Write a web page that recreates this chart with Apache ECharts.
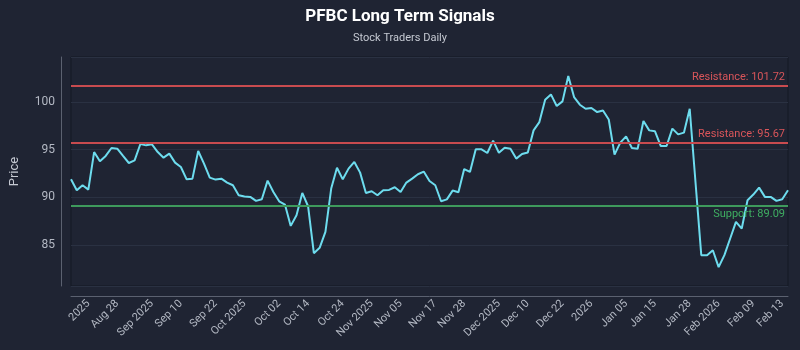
<!DOCTYPE html>
<html>
<head>
<meta charset="utf-8">
<script src="https://cdn.jsdelivr.net/npm/echarts@6/dist/echarts.min.js"></script>
<style>
html,body{margin:0;padding:0;background:#1f2433;}
#chart{width:800px;height:350px;}
</style>
</head>
<body>
<div id="chart"></div>
<script>
const prices = [
  91.88, 90.73, 91.26, 90.80, 94.74, 93.77, 94.33, 95.16, 95.09, 94.33,
  93.59, 93.87, 95.58, 95.44, 95.55, 94.74, 94.15, 94.57, 93.63, 93.17,
  91.88, 91.95, 94.85, 93.52, 92.06, 91.85, 91.95, 91.54, 91.26, 90.21,
  90.07, 90.04, 89.62, 89.79, 91.74, 90.56, 89.58, 89.23, 87.00, 88.12,
  90.45, 89.06, 84.14, 84.70, 86.37, 90.91, 93.10, 91.88, 93.00, 93.70,
  92.58, 90.45, 90.63, 90.21, 90.73, 90.77, 91.05, 90.56, 91.54, 91.95,
  92.41, 92.69, 91.70, 91.26, 89.58, 89.78, 90.70, 90.53, 92.96, 92.65,
  95.02, 95.02, 94.64, 95.93, 94.67, 95.20, 95.09, 94.05, 94.53, 94.70,
  97.01, 97.88, 100.22, 100.78, 99.56, 100.05, 102.70, 100.50, 99.70, 99.28,
  99.35, 98.93, 99.10, 98.15, 94.47, 95.72, 96.38, 95.16, 95.09, 97.99,
  97.01, 96.91, 95.37, 95.37, 97.19, 96.59, 96.77, 99.28, 91.60, 83.93,
  83.93, 84.45, 82.68, 83.93, 85.68, 87.42, 86.72, 89.69, 90.28, 91.01,
  90.04, 90.04, 89.62, 89.79, 90.73
];
const tickLabels = ["2025","Aug 28","Sep 2025","Sep 10","Sep 22","Oct 2025","Oct 02","Oct 14","Oct 24","Nov 2025","Nov 05","Nov 17","Nov 28","Dec 2025","Dec 10","Dec 22","2026","Jan 05","Jan 15","Jan 28","Feb 2026","Feb 09","Feb 13"];
const tickIndex = [3,8,14,19,25,30,36,41,47,52,57,63,68,74,79,85,90,96,101,107,112,118,123];
const resistanceLevels = [101.72, 95.67];
const supportLevels = [89.09];

const categories = prices.map((_, i) => String(i));
const labelAt = {};
tickIndex.forEach((idx, k) => { labelAt[idx] = tickLabels[k]; });

const chart = echarts.init(document.getElementById('chart'), null, {renderer: 'canvas'});
const FONT = 'Roboto, "Noto Sans", sans-serif';

const markData = [];
resistanceLevels.forEach(v => markData.push({
  yAxis: v,
  lineStyle: {color: '#c84b4f', width: 2, type: 'solid'},
  label: {show: true, position: 'insideEndTop', formatter: 'Resistance: ' + v.toFixed(2), color: '#d9555a', fontSize: 11, fontFamily: FONT, distance: 3}
}));
supportLevels.forEach(v => markData.push({
  yAxis: v,
  lineStyle: {color: '#3e9a5c', width: 2, type: 'solid'},
  label: {show: true, position: 'insideEndBottom', formatter: 'Support: ' + v.toFixed(2), color: '#3fae62', fontSize: 11, fontFamily: FONT, distance: 3}
}));

chart.setOption({
  backgroundColor: '#1f2433',
  animation: false,
  title: {
    text: 'PFBC Long Term Signals',
    subtext: 'Stock Traders Daily',
    left: 'center',
    top: 3,
    itemGap: 8,
    textStyle: {color: '#ffffff', fontSize: 17, fontWeight: 'bold', fontFamily: FONT},
    subtextStyle: {color: '#c5c9d2', fontSize: 11, fontFamily: FONT}
  },
  grid: {left: 68, right: 12, top: 57, bottom: 64, show: true, borderColor: '#141925', borderWidth: 1, backgroundColor: 'transparent'},
  xAxis: {
    type: 'category',
    data: categories,
    boundaryGap: false,
    offset: 10,
    axisLine: {show: true, lineStyle: {color: '#5b6170', width: 1}},
    axisTick: {show: false},
    splitLine: {show: false},
    axisLabel: {
      rotate: 45,
      color: '#b4b9c4',
      fontSize: 11,
      fontFamily: FONT,
      margin: 6,
      interval: (i) => labelAt[i] !== undefined,
      formatter: (v, i) => labelAt[i] || ''
    }
  },
  yAxis: {
    type: 'value',
    min: 80.7,
    max: 104.7,
    offset: 10,
    name: 'Price',
    nameLocation: 'middle',
    nameGap: 40,
    nameTextStyle: {color: '#c5c9d2', fontSize: 13, fontFamily: FONT},
    axisLine: {show: true, lineStyle: {color: '#5b6170', width: 1}},
    axisTick: {show: false},
    axisLabel: {color: '#b4b9c4', fontSize: 12, fontFamily: FONT, margin: 6, showMinLabel: false, showMaxLabel: false},
    splitLine: {show: true, lineStyle: {color: '#2a3142', width: 1}}
  },
  series: [{
    type: 'line',
    data: prices,
    showSymbol: false,
    symbol: 'none',
    lineStyle: {color: '#6ddcee', width: 2},
    itemStyle: {color: '#6ddcee'},
    markLine: {
      symbol: ['none', 'none'],
      silent: true,
      data: markData
    }
  }]
});
</script>
</body>
</html>
